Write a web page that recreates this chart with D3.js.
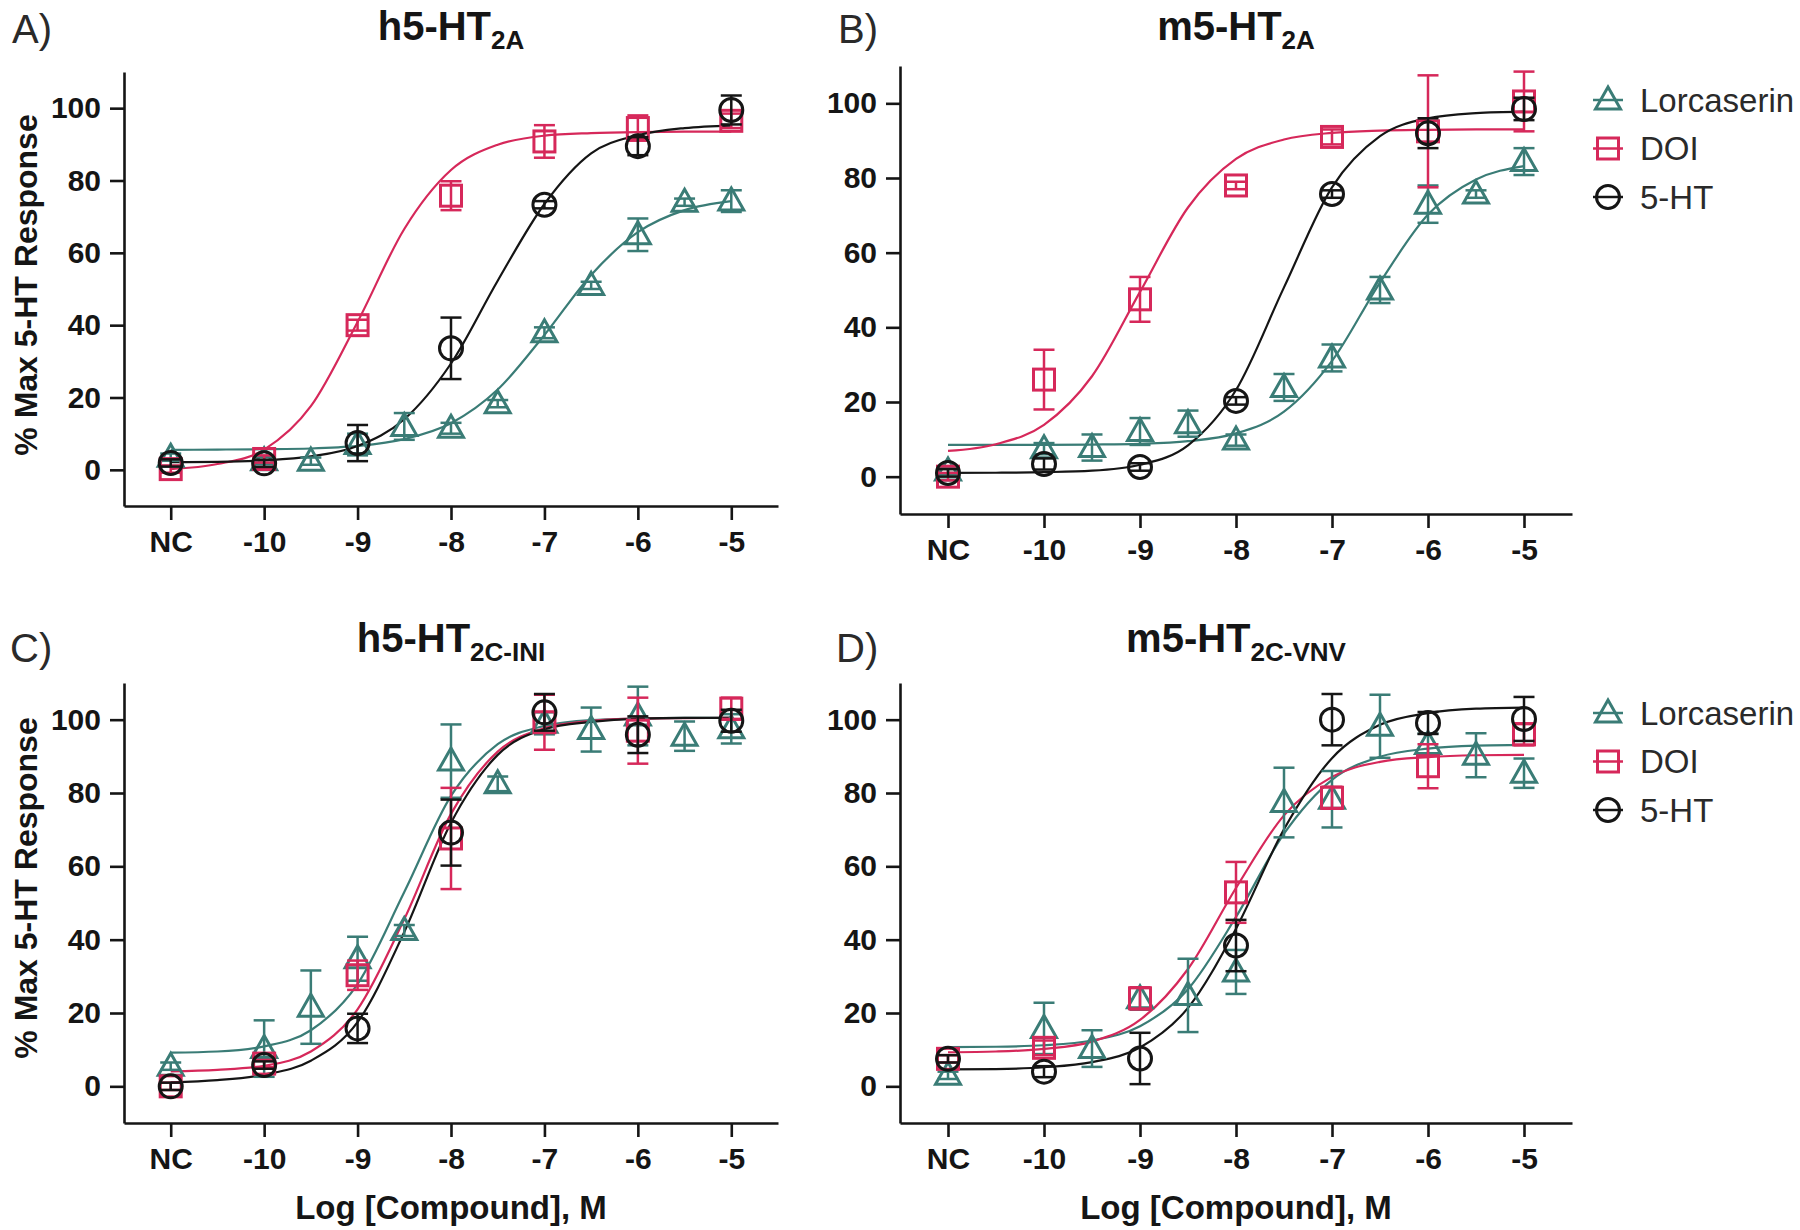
<!DOCTYPE html>
<html>
<head>
<meta charset="utf-8">
<script src="https://cdn.jsdelivr.net/npm/d3@7"></script>
<style>
  body { margin: 0; background: #fff; }
  svg text { font-family: "Liberation Sans", Arial, Helvetica, sans-serif; }
</style>
</head>
<body>
<div class="canvas"></div>
<script>
// ---- data ----
const xTickValues = [-11, -10, -9, -8, -7, -6, -5];
const xTickLabels = ['NC', '-10', '-9', '-8', '-7', '-6', '-5'];
const yTickValues = [0, 20, 40, 60, 80, 100];
const seriesNames = ['Lorcaserin', 'DOI', '5-HT'];

// NC is plotted at -11
const lorcDoses = [-11, -10, -9.5, -9, -8.5, -8, -7.5, -7, -6.5, -6, -5.5, -5];
const agonistDoses = [-11, -10, -9, -8, -7, -6, -5];
const curveDoses = [-11, -10.5, -10, -9.5, -9, -8.5, -8, -7.5, -7, -6.5, -6, -5.5, -5];

// A) h5-HT2A
const aLorcMean = [3.5, 2.5, 2.4, 7.0, 12.0, 11.5, 18.3, 37.9, 51.0, 65.0, 74.0, 74.3];
const aLorcSem = [1, 1, 1, 3, 3.7, 1.5, 1, 1.5, 1, 4.5, 1, 3];
const aDoiMean = [0.2, 3, 40, 75.8, 90.8, 94.5, 96.5];
const aDoiSem = [1, 1, 1.5, 4, 4.5, 3.5, 2];
const aHtMean = [1.9, 1.8, 7.4, 33.6, 73.3, 89.5, 99.5];
const aHtSem = [1, 1, 5, 8.5, 1, 2.5, 4];
const aLorcFit = [5.5, 5.6, 5.7, 5.9, 6.6, 8.5, 12.9, 22.2, 37.3, 53.9, 65.7, 71.8, 74.3];
const aDoiFit = [0.2, 1.6, 5.6, 17.6, 40.9, 66.6, 82.9, 89.9, 92.4, 93.1, 93.4, 93.5, 93.5];
const aHtFit = [2.1, 2.2, 2.6, 3.7, 6.6, 14.0, 29.4, 52.3, 73.5, 87.5, 92.5, 94.5, 95.2];

// B) m5-HT2A
const bLorcMean = [1.5, 7.5, 7.8, 12.1, 14.2, 9.8, 23.9, 31.8, 50.0, 73.0, 75.7, 84.4];
const bLorcSem = [1, 1.5, 3.5, 3.6, 3.5, 1.5, 3.6, 3.6, 3.5, 5, 1, 3.6];
const bDoiMean = [0, 26, 47.5, 78, 91, 92.5, 100.5];
const bDoiSem = [1, 8, 6, 1, 2, 15, 8];
const bHtMean = [1, 3.4, 2.6, 20.3, 75.7, 92, 98.5];
const bHtSem = [1, 1.5, 1, 1, 1, 4, 3];
const bLorcFit = [8.5, 8.5, 8.5, 8.6, 8.8, 9.5, 11.6, 17.4, 31.0, 52.0, 70.2, 79.6, 83.2];
const bDoiFit = [6.9, 8.7, 13.9, 26.9, 49.5, 72.1, 85.1, 90.3, 92.1, 92.7, 92.9, 93.0, 93.0];
const bHtFit = [1.0, 1.05, 1.2, 1.6, 3.2, 8.4, 23.2, 50.7, 77.5, 91.2, 96.0, 97.4, 97.8];

// C) h5-HT2C-INI
const cLorcMean = [5.5, 10.3, 21.6, 34.8, 42.5, 88.7, 82.5, 99, 97.3, 101, 95.5, 97.5];
const cLorcSem = [1, 7.7, 10, 6, 1.5, 10, 2, 3, 6, 8, 4, 4];
const cDoiMean = [0, 6.2, 30.3, 67.6, 99.3, 97, 103];
const cDoiSem = [1, 1, 4, 13.8, 7.5, 9, 3];
const cHtMean = [0, 5.8, 15.8, 69.2, 102, 95.9, 99.7];
const cHtSem = [1, 1, 4, 9, 5, 5, 3];
const cLorcFit = [9.2, 9.5, 10.9, 15.3, 27.9, 53.0, 79.2, 93.3, 98.3, 99.9, 100.3, 100.5, 100.5];
const cDoiFit = [4.1, 4.5, 5.6, 9.5, 21.0, 45.6, 74.3, 91.3, 97.7, 99.7, 100.3, 100.4, 100.5];
const cHtFit = [1.1, 1.7, 3.2, 7.0, 17.5, 42.1, 71.9, 90.4, 97.4, 99.4, 100.3, 100.5, 100.5];

// D) m5-HT2C-VNV
const dLorcMean = [3, 15.8, 10.3, 23.9, 24.8, 31.2, 77.4, 78.3, 98.2, 93.2, 90.3, 85.4];
const dLorcSem = [1, 7, 5, 3, 10, 6, 9.5, 7.7, 8.6, 3, 6, 4];
const dDoiMean = [7.5, 10.5, 24, 52.9, 78.7, 87.3, 96];
const dDoiSem = [1, 2, 3, 8.3, 3, 6, 3];
const dHtMean = [7.5, 4, 7.6, 38.4, 100, 99.1, 100.2];
const dHtSem = [1, 1.5, 7, 7, 7, 3, 6];
const dLorcFit = [10.7, 10.8, 11.2, 12.5, 16.4, 26.5, 46.2, 68.9, 83.6, 89.9, 92.1, 92.9, 93.1];
const dDoiFit = [9.3, 9.5, 10.2, 12.2, 18.1, 32.0, 54.1, 73.9, 84.4, 88.5, 89.8, 90.3, 90.4];
const dHtFit = [4.6, 4.7, 5.2, 6.6, 10.6, 21.4, 43.0, 70.1, 89.5, 98.6, 101.8, 103.0, 103.3];

// ---- layout / style ----
const colors = ['#3a7c76', '#d6285a', '#151515'];
const shapes = ['triangle', 'square', 'circle'];
const ink = '#151515';

const panels = [
  { letter: 'A)', main: 'h5-HT', sub: '2A', x0: 124, x1: 778, yTop: 72, yBot: 506,
    letterX: 12, letterY: 43, titleY: 40, yLabelY: 285, xLabel: false, legendY: null,
    series: [[lorcDoses, aLorcMean, aLorcSem, aLorcFit], [agonistDoses, aDoiMean, aDoiSem, aDoiFit], [agonistDoses, aHtMean, aHtSem, aHtFit]] },
  { letter: 'B)', main: 'm5-HT', sub: '2A', x0: 900, x1: 1572, yTop: 66, yBot: 514,
    letterX: 838, letterY: 43, titleY: 40, yLabelY: null, xLabel: false, legendY: 100,
    series: [[lorcDoses, bLorcMean, bLorcSem, bLorcFit], [agonistDoses, bDoiMean, bDoiSem, bDoiFit], [agonistDoses, bHtMean, bHtSem, bHtFit]] },
  { letter: 'C)', main: 'h5-HT', sub: '2C-INI', x0: 124, x1: 778, yTop: 683, yBot: 1123,
    letterX: 10, letterY: 662, titleY: 652, yLabelY: 888, xLabel: true, legendY: null,
    series: [[lorcDoses, cLorcMean, cLorcSem, cLorcFit], [agonistDoses, cDoiMean, cDoiSem, cDoiFit], [agonistDoses, cHtMean, cHtSem, cHtFit]] },
  { letter: 'D)', main: 'm5-HT', sub: '2C-VNV', x0: 900, x1: 1572, yTop: 683, yBot: 1123,
    letterX: 836, letterY: 662, titleY: 652, yLabelY: null, xLabel: true, legendY: 713,
    series: [[lorcDoses, dLorcMean, dLorcSem, dLorcFit], [agonistDoses, dDoiMean, dDoiSem, dDoiFit], [agonistDoses, dHtMean, dHtSem, dHtFit]] },
];

const svg = d3.select('.canvas')
  .append('svg')
  .attr('width', 1800)
  .attr('height', 1230)
  .style('background', '#fff');

// open symbol, centred on the group's origin
function addMarker(g, shape, color) {
  if (shape === 'circle') {
    g.append('circle').attr('r', 11.5);
  } else if (shape === 'square') {
    g.append('rect').attr('x', -10.5).attr('y', -10.5).attr('width', 21).attr('height', 21);
  } else {
    g.append('path').attr('d', 'M0,-13L12.5,9L-12.5,9Z');
  }
  g.selectAll('*').attr('fill', 'none').attr('stroke', color).attr('stroke-width', 3);
}

panels.forEach(p => {
  const x = d3.scaleLinear().domain([-11.5, -4.5]).range([p.x0, p.x1]);
  const y = d3.scaleLinear().domain([-10, 110]).range([p.yBot, p.yTop]);
  const g = svg.append('g');

  // axes
  const yAxis = g.append('g')
    .attr('transform', `translate(${p.x0},0)`)
    .call(d3.axisLeft(y).tickValues(yTickValues).tickSize(14).tickSizeOuter(0).tickPadding(9));
  const xAxis = g.append('g')
    .attr('transform', `translate(0,${p.yBot})`)
    .call(d3.axisBottom(x).tickValues(xTickValues).tickFormat((d, i) => xTickLabels[i])
      .tickSize(14).tickSizeOuter(0).tickPadding(11));
  [yAxis, xAxis].forEach(a => {
    a.select('.domain').attr('stroke', ink).attr('stroke-width', 2.6);
    a.selectAll('.tick line').attr('stroke', ink).attr('stroke-width', 2.6);
    a.selectAll('.tick text')
      .attr('fill', ink)
      .style('font-size', '30px')
      .style('font-weight', 'bold');
  });

  // panel letter
  g.append('text')
    .attr('x', p.letterX).attr('y', p.letterY)
    .attr('fill', '#2a2a2a')
    .style('font-size', '40px')
    .text(p.letter);

  // title with subscript
  const title = g.append('text')
    .attr('x', (p.x0 + p.x1) / 2).attr('y', p.titleY)
    .attr('text-anchor', 'middle')
    .attr('fill', ink)
    .style('font-weight', 'bold');
  title.append('tspan').style('font-size', '40px').text(p.main);
  title.append('tspan').attr('dy', 9).style('font-size', '26px').text(p.sub);

  if (p.yLabelY !== null) {
    g.append('text')
      .attr('transform', `translate(37,${p.yLabelY}) rotate(-90)`)
      .attr('text-anchor', 'middle')
      .attr('fill', ink)
      .style('font-size', '32px')
      .style('font-weight', 'bold')
      .text('% Max 5-HT Response');
  }
  if (p.xLabel) {
    g.append('text')
      .attr('x', (p.x0 + p.x1) / 2).attr('y', p.yBot + 96)
      .attr('text-anchor', 'middle')
      .attr('fill', ink)
      .style('font-size', '33px')
      .style('font-weight', 'bold')
      .text('Log [Compound], M');
  }

  const line = d3.line()
    .x(d => x(d[0]))
    .y(d => y(d[1]))
    .curve(d3.curveMonotoneX);

  // fitted curves
  p.series.forEach((s, k) => {
    g.append('path')
      .attr('d', line(d3.zip(curveDoses, s[3])))
      .attr('fill', 'none')
      .attr('stroke', colors[k])
      .attr('stroke-width', 2.2);
  });

  // error bars + symbols
  p.series.forEach((s, k) => {
    const pts = s[0].map((d, i) => ({ dose: d, mean: s[1][i], sem: s[2][i] }));
    const eb = g.append('g').attr('stroke', colors[k]).attr('stroke-width', 2.5);
    eb.selectAll('line.v').data(pts).enter().append('line')
      .attr('x1', d => x(d.dose)).attr('x2', d => x(d.dose))
      .attr('y1', d => y(d.mean - d.sem)).attr('y2', d => y(d.mean + d.sem));
    [-1, 1].forEach(sign => {
      eb.selectAll(null).data(pts).enter().append('line')
        .attr('x1', d => x(d.dose) - 10.5).attr('x2', d => x(d.dose) + 10.5)
        .attr('y1', d => y(d.mean + sign * d.sem)).attr('y2', d => y(d.mean + sign * d.sem));
    });
    g.selectAll(null).data(pts).enter().append('g')
      .attr('transform', d => `translate(${x(d.dose)},${y(d.mean)})`)
      .each(function () { addMarker(d3.select(this), shapes[k], colors[k]); });
  });

  // legend
  if (p.legendY !== null) {
    seriesNames.forEach((name, k) => {
      const cy = p.legendY + k * 48.5;
      const lg = g.append('g').attr('transform', `translate(1608,${cy})`);
      lg.append('line').attr('x1', -15).attr('x2', 15)
        .attr('stroke', colors[k]).attr('stroke-width', 2.5);
      addMarker(lg.append('g'), shapes[k], colors[k]);
      g.append('text')
        .attr('x', 1640).attr('y', cy)
        .attr('dy', '0.36em')
        .attr('fill', '#2a2a2a')
        .style('font-size', '33px')
        .text(name);
    });
  }
});
</script>
</body>
</html>
